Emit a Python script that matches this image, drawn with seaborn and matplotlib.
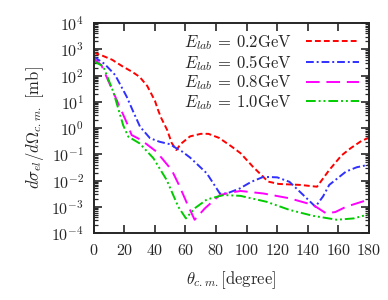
import numpy as np
import pandas as pd
import matplotlib
matplotlib.use("Agg")
import matplotlib.pyplot as plt
import seaborn as sns
from matplotlib.ticker import LogLocator, NullFormatter

# angles [deg] and cross sections [mb]
theta_02 = [0, 6, 12, 19, 25, 30, 35, 40, 42, 44, 48, 51, 54, 57, 63, 70, 75, 82, 90, 96,
            104, 114, 121, 135, 146, 154, 162, 168, 175, 180]
sig_02 = [740, 560, 400, 220, 140, 89, 40, 11, 5.0, 2.5, 0.85, 0.27, 0.145, 0.25, 0.48,
          0.6, 0.6, 0.42, 0.2, 0.11, 0.034, 0.0091, 0.0074, 0.0068, 0.0058, 0.025, 0.09,
          0.17, 0.32, 0.43]

theta_05 = [0, 7, 14, 21.6, 26, 30.3, 36.8, 43, 50, 54, 58, 63, 68, 74, 82.5, 87, 95.6,
            103, 111, 120, 128, 136, 145, 150, 154, 165, 172, 180]
sig_05 = [525, 280, 105, 15.5, 4.0, 1.12, 0.41, 0.30, 0.24, 0.17, 0.125, 0.075, 0.04,
          0.0186, 0.0032, 0.0032, 0.005, 0.0089, 0.0138, 0.0132, 0.0089, 0.0032, 0.001,
          0.0025, 0.0068, 0.022, 0.032, 0.04]

theta_08 = [0, 5, 10.7, 16, 21.6, 24.8, 31, 41, 51, 56, 61, 66, 72.7, 82.5, 90, 96, 111,
            128, 143.5, 152, 158, 165, 180]
sig_08 = [450, 250, 44, 8.7, 1.6, 0.54, 0.35, 0.126, 0.025, 0.0063, 0.00135, 0.00032,
          0.00087, 0.0028, 0.0035, 0.004, 0.0032, 0.0021, 0.00117, 0.00056, 0.00063,
          0.001, 0.0019]

theta_10 = [0, 6.3, 12.8, 19.3, 22.6, 30, 39, 47.7, 55.3, 60.3, 66, 74, 85, 96, 113, 128,
            143.5, 159, 170, 180]
sig_10 = [355, 220, 24, 1.26, 0.47, 0.26, 0.071, 0.0105, 0.001, 0.00036, 0.00087, 0.0019,
          0.0028, 0.0026, 0.00155, 0.00076, 0.00045, 0.00032, 0.00036, 0.00052]

labels = [r"$E_{lab}$ = 0.2GeV", r"$E_{lab}$ = 0.5GeV",
          r"$E_{lab}$ = 0.8GeV", r"$E_{lab}$ = 1.0GeV"]

frames = []
for lab, th, sg in zip(labels, [theta_02, theta_05, theta_08, theta_10],
                       [sig_02, sig_05, sig_08, sig_10]):
    frames.append(pd.DataFrame({"theta": th, "sigma": sg, "energy": lab}))
df = pd.concat(frames, ignore_index=True)

sns.set_style("ticks")
plt.rcParams["font.family"] = ["serif"]
plt.rcParams["font.serif"] = ["cmr10", "DejaVu Serif"]
plt.rcParams["mathtext.fontset"] = "cm"
plt.rcParams["axes.formatter.use_mathtext"] = True
plt.rcParams["axes.unicode_minus"] = False

colors = ["#ff0000", "#3030ff", "#ff00ff", "#00cc00"]
dashes = [(3, 1.6), (4, 1.5, 1, 1.5), (7, 3.5), (5, 1.5, 1, 1.5, 1, 1.5)]

fig = plt.figure(figsize=(3.88, 3.0), dpi=100)
ax = fig.add_axes([0.2415, 0.2233, 0.7095, 0.70])

sns.lineplot(data=df, x="theta", y="sigma", hue="energy", style="energy",
             palette=colors, dashes=dashes, linewidth=1.4, ax=ax, sort=False)

ax.set_yscale("log")
ax.set_xlim(0, 180)
ax.set_ylim(1e-4, 1e4)
ax.set_xticks(np.arange(0, 181, 20))
ax.yaxis.set_major_locator(LogLocator(base=10, numticks=20))
ax.yaxis.set_minor_locator(LogLocator(base=10, subs=np.arange(2, 10), numticks=20))
ax.yaxis.set_minor_formatter(NullFormatter())
ax.tick_params(which="major", direction="in", length=6, width=1.2, top=True, right=True,
               labelsize=11.5, pad=7)
ax.tick_params(which="minor", direction="in", length=3, width=0.9, top=True, right=True)
for s in ax.spines.values():
    s.set_linewidth(1.4)

ax.set_xlabel(r"$\theta_{c.m.}$[degree]", fontsize=12, labelpad=8)
ax.set_ylabel(r"$d\sigma_{el}/d\Omega_{c.m.}$ [mb]", fontsize=12, labelpad=4)

ax.legend(loc="upper right", frameon=False, markerfirst=False, fontsize=12,
          handlelength=3.2, labelspacing=0.05, borderaxespad=0.2, handletextpad=0.8)

fig.savefig("out.png", dpi=100)
